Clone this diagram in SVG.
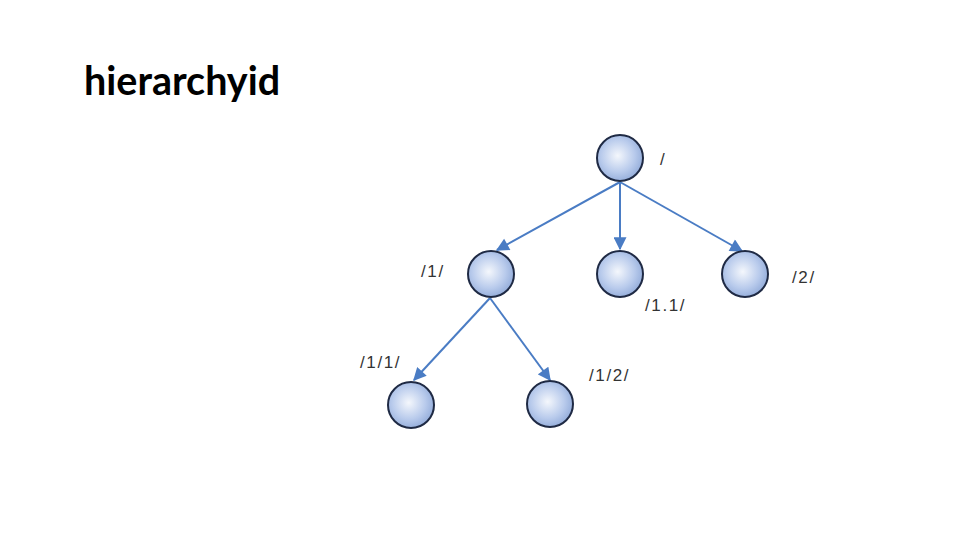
<svg xmlns="http://www.w3.org/2000/svg" width="960" height="540" viewBox="0 0 960 540">
<defs>
<radialGradient id="g" cx="0.45" cy="0.45" r="0.6">
<stop offset="0" stop-color="#f4f7fc"/>
<stop offset="0.6" stop-color="#b9cbec"/>
<stop offset="1" stop-color="#8fa9d8"/>
</radialGradient>
<marker id="ah" viewBox="0 0 10 10" refX="9" refY="5" markerWidth="14" markerHeight="13" markerUnits="userSpaceOnUse" orient="auto">
<path d="M0,0 L10,5 L0,10 z" fill="#4a7cc4"/>
</marker>
<style>
.n{fill:url(#g);stroke:#1f2a44;stroke-width:2}
.e{stroke:#4a7cc4;stroke-width:2;fill:none;marker-end:url(#ah)}
.l{font-family:"Liberation Sans",Arial,sans-serif;font-size:17px;letter-spacing:1.6px;fill:#333}
</style>
</defs>
<rect width="960" height="540" fill="#fff"/>
<text x="84" y="95" font-family="Lato,'Liberation Sans',sans-serif" font-weight="bold" font-size="39.5" fill="#000">hierarchyid</text>
<g id="connectors">
<line class="e" x1="620" y1="182" x2="497" y2="250"/>
<line class="e" x1="620" y1="182" x2="620" y2="249"/>
<line class="e" x1="620" y1="182" x2="742" y2="251"/>
<line class="e" x1="490" y1="298" x2="414" y2="380"/>
<line class="e" x1="490" y1="298" x2="550" y2="380"/>
</g>
<g id="n_root"><circle class="n" cx="620" cy="158" r="23"/><text class="l" x="660" y="165">/</text></g>
<g id="n_1"><circle class="n" cx="491" cy="274" r="23"/><text class="l" x="421" y="277">/1/</text></g>
<g id="n_11"><circle class="n" cx="620" cy="274" r="23"/><text class="l" x="645" y="311">/1.1/</text></g>
<g id="n_2"><circle class="n" cx="745" cy="274" r="23"/><text class="l" x="792" y="283">/2/</text></g>
<g id="n_1_1"><circle class="n" cx="411" cy="405" r="23"/><text class="l" x="360" y="368">/1/1/</text></g>
<g id="n_1_2"><circle class="n" cx="550" cy="404" r="23"/><text class="l" x="589" y="381">/1/2/</text></g>
</svg>
